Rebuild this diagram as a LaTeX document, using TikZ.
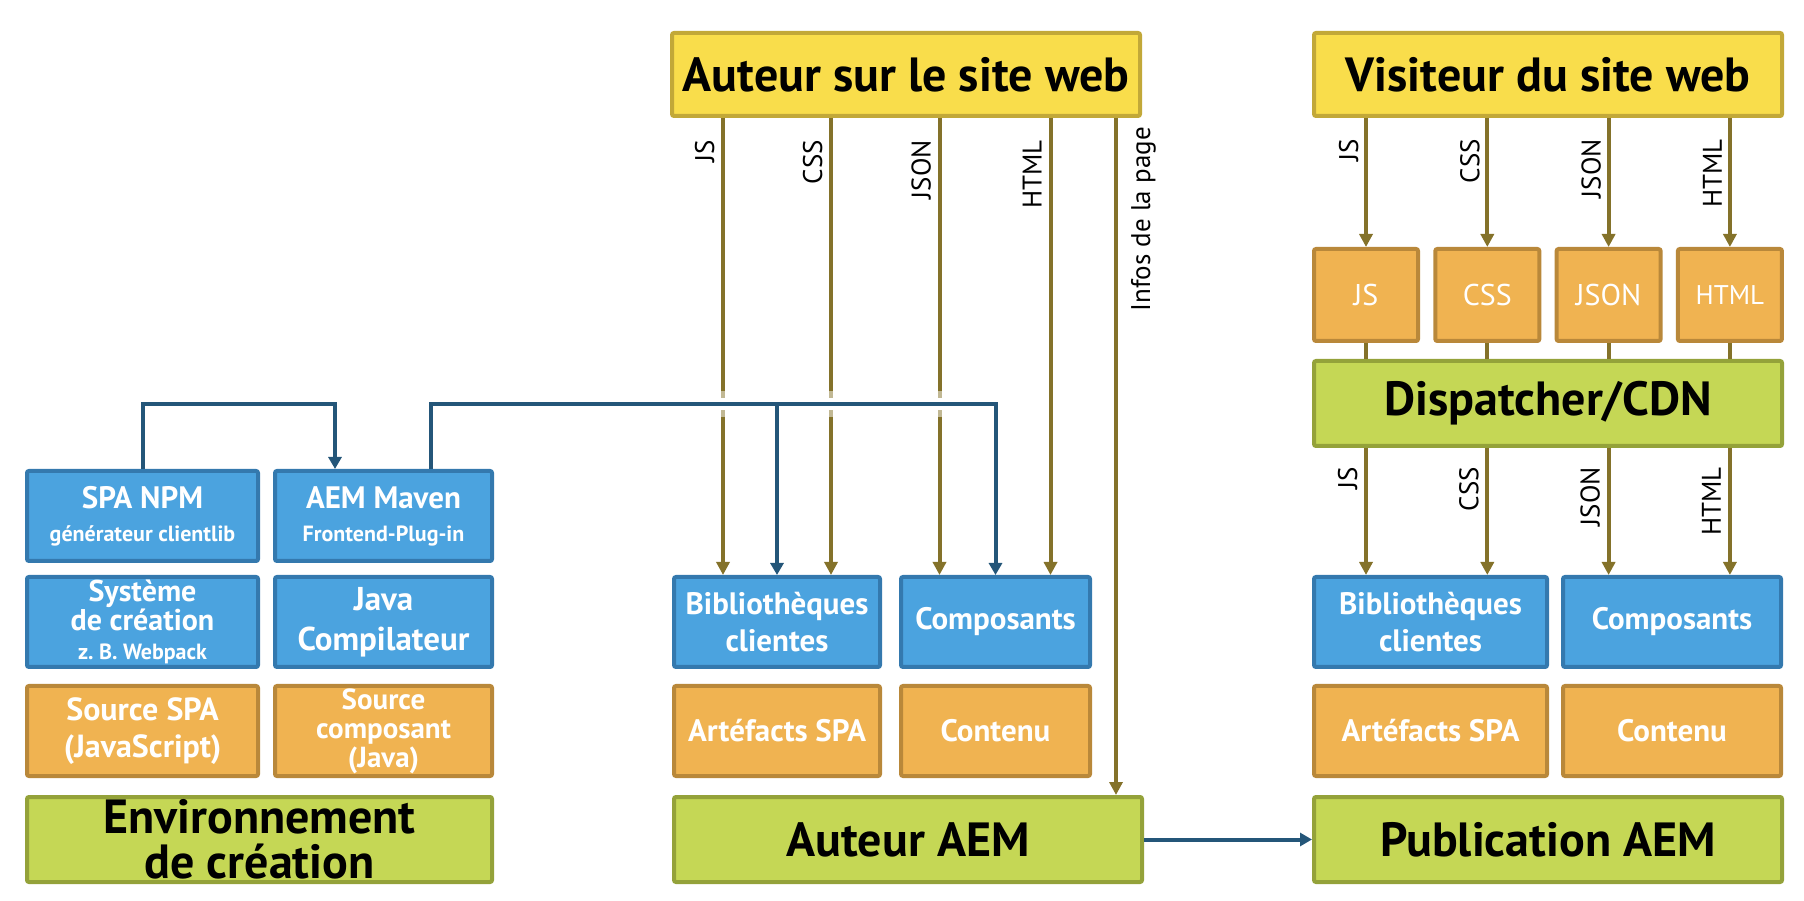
\documentclass[tikz,border=0pt]{standalone}
\usepackage{fontspec}
\setmainfont{PT Sans}
\usetikzlibrary{arrows.meta, positioning, calc}
\definecolor{bluefill}{HTML}{4BA3DF}
\definecolor{blueline}{HTML}{3479AE}
\definecolor{orangefill}{HTML}{F0B351}
\definecolor{orangeline}{HTML}{B9883A}
\definecolor{greenfill}{HTML}{C5D755}
\definecolor{greenline}{HTML}{94A23A}
\definecolor{yellowfill}{HTML}{F9DD4B}
\definecolor{yellowline}{HTML}{C2A838}
\definecolor{flowolive}{HTML}{84722A}
\definecolor{linkblue}{HTML}{245679}
\newcommand{\subtxt}{\fontsize{22}{26}\selectfont}

\begin{document}
\begin{tikzpicture}[x=1pt, y=1pt,
  box/.style={rectangle, line width=4pt, rounded corners=2pt, inner sep=0pt, align=center, text=white, font=\fontsize{31}{37}\selectfont\bfseries},
  bluebox/.style={box, draw=blueline, fill=bluefill},
  orangebox/.style={box, draw=orangeline, fill=orangefill},
  smallbox/.style={orangebox, minimum width=104pt, minimum height=92pt, font=\fontsize{30}{36}\selectfont},
  greenbox/.style={box, draw=greenline, fill=greenfill, text=black, font=\fontsize{48}{45}\selectfont\bfseries},
  yellowbox/.style={greenbox, draw=yellowline, fill=yellowfill},
  flow/.style={-{Triangle[width=13pt, length=13pt]}, line width=4pt, draw=flowolive},
  flowline/.style={line width=4pt, draw=flowolive},
  link/.style={-{Triangle[width=13pt, length=12pt]}, line width=4pt, draw=linkblue},
  flowlabel/.style={rotate=90, anchor=base east, inner sep=0pt, font=\fontsize{27}{30}\selectfont}
]
  \useasboundingbox (0,0) rectangle (1804,900);

  % Build environment
  \node[bluebox, minimum width=231pt, minimum height=90pt] (spanpm) at (142.5,384) {SPA NPM\\[-4pt]{\subtxt générateur clientlib}};
  \node[bluebox, minimum width=217pt, minimum height=90pt, right=13pt of spanpm] (maven) {AEM Maven\\[-4pt]{\subtxt Frontend-Plug-in}};
  \node[bluebox, minimum width=231pt, minimum height=90pt, below=12pt of spanpm, font=\fontsize{30}{29}\selectfont\bfseries] (systeme) {Système\\de création\\{\subtxt z.\ B.\ Webpack}};
  \node[bluebox, minimum width=217pt, minimum height=90pt, below=12pt of maven, font=\fontsize{33}{40}\selectfont\bfseries] (javac) {Java\\Compilateur};
  \node[orangebox, minimum width=231pt, minimum height=90pt, below=15pt of systeme, font=\fontsize{32}{37}\selectfont\bfseries] (srcspa) {Source SPA\\(JavaScript)};
  \node[orangebox, minimum width=217pt, minimum height=90pt, below=15pt of javac, font=\fontsize{29}{29}\selectfont\bfseries] (srccomp) {Source\\composant\\(Java)};
  \node[greenbox, minimum width=465pt, minimum height=85pt, anchor=north west] (env) at ($(srcspa.south west)+(0,-17)$) {Environnement\\de création};

  % AEM author
  \node[yellowbox, minimum width=468pt, minimum height=83pt] (auteurweb) at (906,825.5) {Auteur sur le site web};
  \node[bluebox, minimum width=206pt, minimum height=90pt] (biblio) at (777,278) {Bibliothèques\\clientes};
  \node[bluebox, minimum width=189pt, minimum height=90pt, right=17pt of biblio] (compo) {Composants};
  \node[orangebox, minimum width=206pt, minimum height=90pt, below=15pt of biblio] (artefacts) {Artéfacts SPA};
  \node[orangebox, minimum width=189pt, minimum height=90pt, below=15pt of compo] (contenu) {Contenu};
  \node[greenbox, minimum width=468pt, minimum height=85pt, anchor=north west] (aemauthor) at ($(artefacts.south west)+(0,-17)$) {Auteur AEM};

  % AEM publish
  \node[yellowbox, minimum width=468pt, minimum height=83pt, right=170pt of auteurweb] (visiteur) {Visiteur du site web};
  \node[smallbox, anchor=north west] (jsbox) at ($(visiteur.south west)+(0,-129)$) {JS};
  \node[smallbox, right=13.3pt of jsbox] (cssbox) {CSS};
  \node[smallbox, right=13.3pt of cssbox] (jsonbox) {JSON};
  \node[smallbox, right=13.3pt of jsonbox, font=\fontsize{27}{30}\selectfont] (htmlbox) {HTML};
  \node[greenbox, minimum width=468pt, minimum height=85pt, anchor=north west] (dispatcher) at ($(jsbox.south west)+(0,-16)$) {Dispatcher/CDN};
  \node[bluebox, minimum width=233pt, minimum height=90pt, anchor=north west] (biblio2) at ($(dispatcher.south west)+(0,-127)$) {Bibliothèques\\clientes};
  \node[bluebox, minimum width=218pt, minimum height=90pt, right=12pt of biblio2] (compo2) {Composants};
  \node[orangebox, minimum width=233pt, minimum height=90pt, below=15pt of biblio2] (artefacts2) {Artéfacts SPA};
  \node[orangebox, minimum width=218pt, minimum height=90pt, below=15pt of compo2] (contenu2) {Contenu};
  \node[greenbox, minimum width=468pt, minimum height=85pt, anchor=north west] (publication) at ($(artefacts2.south west)+(0,-17)$) {Publication AEM};

  % Author flows
  \coordinate (jsa) at ($(biblio.north)+(-54,0)$);
  \coordinate (cssa) at ($(biblio.north)+(54,0)$);
  \coordinate (jsona) at ($(compo.north)+(-56,0)$);
  \coordinate (htmla) at ($(compo.north)+(55,0)$);
  \coordinate (infosa) at ($(aemauthor.north east)+(-28,0)$);
  \foreach \c/\t in {jsa/JS, cssa/CSS, jsona/JSON, htmla/HTML} {
    \draw[flow] (auteurweb.south -| \c) -- (\c);
    \node[flowlabel] (la\t) at ($(auteurweb.south -| \c)+(-9,-22)$) {\t};
  }
  \draw[flow] (auteurweb.south -| infosa) -- (infosa);
  \node[flowlabel] (linfos) at ($(auteurweb.south -| infosa)+(34,-9)$) {Infos de la page};

  % Build links
  \coordinate (bus) at ($(maven.north)+(47.5,65)$);
  \draw[white, opacity=0.5, line width=26pt] ($(bus -| jsa)+(-12,0)$) -- ($(bus -| jsona)+(12,0)$);
  \draw[white, line width=12pt] ($(bus -| jsa)+(-12,0)$) -- ($(bus -| jsona)+(12,0)$);
  \draw[link] (spanpm.north) -- ++(0,65) -| ($(maven.north)+(-48.5,0)$);
  \draw[link] ($(maven.north)+(47.5,0)$) -- (bus) -| (compo.north);
  \draw[link] (bus -| biblio.north) -- (biblio.north);
  \draw[link] (aemauthor.east) -- (publication.west);

  % Visitor flows
  \foreach \b/\t in {jsbox/JS, cssbox/CSS, jsonbox/JSON, htmlbox/HTML} {
    \draw[flow] (visiteur.south -| \b.north) -- (\b.north);
    \node[flowlabel] (lv\t) at ($(visiteur.south -| \b.north)+(-8,-21)$) {\t};
    \draw[flowline] (\b.south) -- (dispatcher.north -| \b.south);
  }
  \foreach \b/\d/\t in {jsbox/biblio2/JS, cssbox/biblio2/CSS, jsonbox/compo2/JSON, htmlbox/compo2/HTML} {
    \draw[flow] (dispatcher.south -| \b.north) -- (\d.north -| \b.north);
    \node[flowlabel] (ld\t) at ($(dispatcher.south -| \b.north)+(-9,-19)$) {\t};
  }
\end{tikzpicture}
\end{document}
